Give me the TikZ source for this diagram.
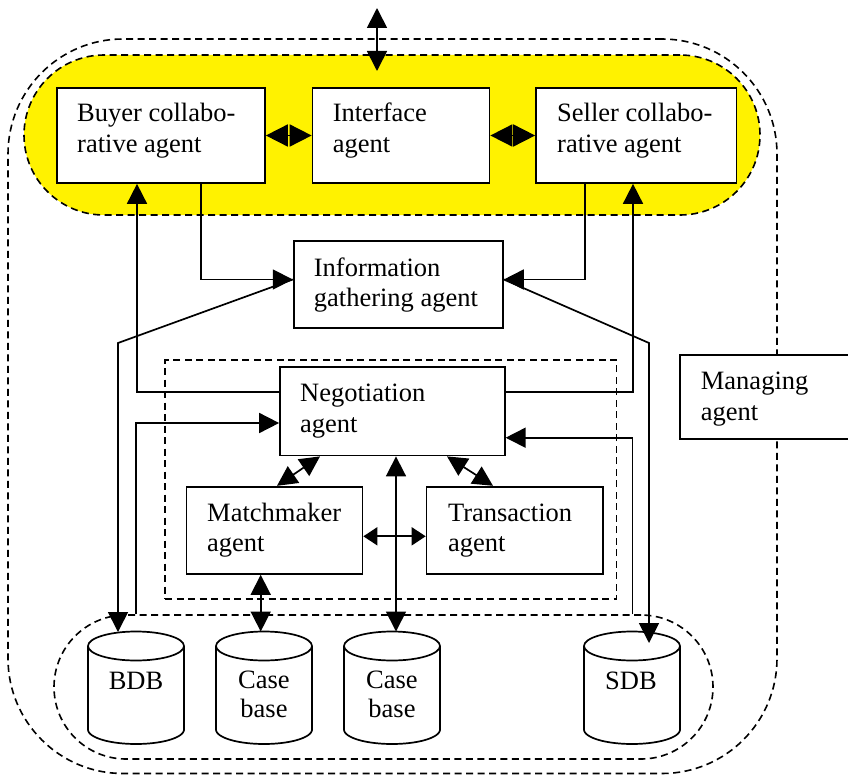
\documentclass[tikz,border=0pt]{standalone}
\usepackage{fontspec}
\setmainfont{Liberation Serif}
\usetikzlibrary{arrows.meta}
\newcommand\twol[2]{\begin{tabular}[t]{@{}l@{}}#1\\#2\end{tabular}}
\newcommand\twoc[2]{\begin{tabular}[t]{@{}c@{}}#1\\[-2pt]#2\end{tabular}}
\newcommand\dbcyl[1]{%
  \draw[lw] (#1-48,646) -- (#1-48,729.5) -- plot[domain=180:0,samples=50,smooth] ({#1+48*cos(\x)},{729.5+14.5*sin(\x)}) -- (#1+48,646);
  \draw[lw] (#1,646) ellipse[x radius=48pt, y radius=14.5pt];}
\begin{document}
\begin{tikzpicture}[x=1pt,y={(0pt,-1pt)},
  lw/.style={line width=1.7pt},
  dsh/.style={line width=1.6pt, dash pattern=on 7pt off 4.5pt},
  box/.style={draw, line width=1.7pt, fill=white, inner sep=0pt},
  txt/.style={anchor=base west, inner sep=0pt, font=\fontsize{26.5}{30.7}\selectfont},
  ctxt/.style={anchor=base, inner sep=0pt, font=\fontsize{26.5}{30.7}\selectfont},
  arr/.style={line width=1.7pt, -{Triangle[length=20pt,width=20pt]}},
  dbl/.style={line width=1.7pt, {Triangle[length=20pt,width=20pt]}-{Triangle[length=20pt,width=20pt]}},
  dblb/.style={line width=1.7pt, {Triangle[length=22pt,width=22pt]}-{Triangle[length=22pt,width=22pt]}},
  dbls/.style={line width=1.7pt, {Triangle[length=14pt,width=18pt]}-{Triangle[length=14pt,width=18pt]}}]
\useasboundingbox (0,0) rectangle (848,776);

% outer managed region
\node[dsh, draw, rounded corners=115pt, minimum width=769pt, minimum height=734.5pt, inner sep=0pt] (outer) at (392.5,406.25) {};
% yellow region
\node[dsh, draw, fill=yellow, rounded corners=80pt, minimum width=736pt, minimum height=160pt, inner sep=0pt] (yel) at (392,135) {};
% inner dashed region
\node[dsh, draw, minimum width=451.5pt, minimum height=239pt, inner sep=0pt] (inner) at (390.75,479.5) {};
% database group
\node[dsh, draw, rounded corners=72pt, minimum width=659pt, minimum height=144pt, inner sep=0pt] (dbg) at (383.5,687) {};

% boxes
\node[box, minimum width=208pt, minimum height=95pt] (buyer) at (161,135.5) {};
\node[box, minimum width=177pt, minimum height=95pt] (interface) at (401,135.5) {};
\node[box, minimum width=200.6pt, minimum height=95pt] (seller) at (636.3,135.5) {};
\node[box, minimum width=209.3pt, minimum height=86.7pt] (info) at (398.3,284.3) {};
\node[box, minimum width=224.8pt, minimum height=88.5pt] (nego) at (392.4,411.3) {};
\node[box, minimum width=176pt, minimum height=87.3pt] (mm) at (274.5,530.3) {};
\node[box, minimum width=176.5pt, minimum height=87.3pt] (tr) at (514.8,530.3) {};
\node[box, minimum width=190pt, minimum height=84pt] (managing) at (775,397) {};

% texts
\node[txt] (buyert) at (77,121.7) {\twol{Buyer collabo-}{rative agent}};
\node[txt] (interfacet) at (332.6,121.7) {\twol{Interface}{agent}};
\node[txt] (sellert) at (557,121.7) {\twol{Seller collabo-}{rative agent}};
\node[txt] (infot) at (313.7,276) {\twol{Information}{gathering agent}};
\node[txt] (negot) at (300,401.7) {\twol{Negotiation}{agent}};
\node[txt] (mmt) at (207,521) {\twol{Matchmaker}{agent}};
\node[txt] (trt) at (447.8,521) {\twol{Transaction}{agent}};
\node[txt] (mant) at (700.7,389.3) {\twol{Managing}{agent}};

% databases
\dbcyl{136}
\dbcyl{264}
\dbcyl{392}
\dbcyl{632}
\node[ctxt] (bdbt) at (136,689) {BDB};
\node[ctxt] (cb1t) at (264,688.5) {\twoc{Case}{base}};
\node[ctxt] (cb2t) at (392,688.5) {\twoc{Case}{base}};
\node[ctxt] (sdbt) at (631,689.3) {SDB};

% coordinates
\coordinate (ext1) at (377,8);
\coordinate (ext2) at (377,71);
\coordinate (bl) at (118,343);
\coordinate (br) at (649,343);
\coordinate (bdbin) at (118,632);
\coordinate (cb1in) at (260.7,631.5);
\coordinate (cb2in) at (396,631.5);
\coordinate (sdbin) at (649,643);

% connectors
\draw[dbl] (ext1) -- (ext2);
\draw[dblb] (buyer.east) -- (interface.west);
\draw[dblb] (interface.east) -- (seller.west);
\draw[arr] ([xshift=40pt]buyer.south) |- ([yshift=4.8pt]info.west);
\draw[arr] ([xshift=-51.3pt]seller.south) |- ([yshift=4.8pt]info.east);
\draw[arr] ([yshift=4.8pt]info.west) -- (bl) -- (bdbin);
\draw[arr] ([yshift=4.8pt]info.east) -- (br) -- (sdbin);
\draw[arr] ([yshift=19.3pt]nego.west) -| ([xshift=-24pt]buyer.south);
\draw[arr] ([yshift=19.3pt]nego.east) -| ([xshift=-3.3pt]seller.south);
\draw[arr] ([xshift=-247.5pt]dbg.north) |- ([yshift=-11.7pt]nego.west);
\draw[arr] ([xshift=249pt]dbg.north) |- ([yshift=-26.4pt]nego.east);
\draw[dbl] ([xshift=-72.4pt]nego.south) -- ([xshift=2.5pt]mm.north);
\draw[dbl] ([xshift=54.6pt]nego.south) -- ([xshift=-21.8pt]tr.north);
\draw[dbls] ([yshift=-6pt]mm.east) -- ([yshift=-6pt]tr.west);
\draw[dbl] ([xshift=-13.8pt]mm.south) -- (cb1in);
\draw[dbl] ([xshift=3.6pt]nego.south) -- (cb2in);
\end{tikzpicture}
\end{document}
